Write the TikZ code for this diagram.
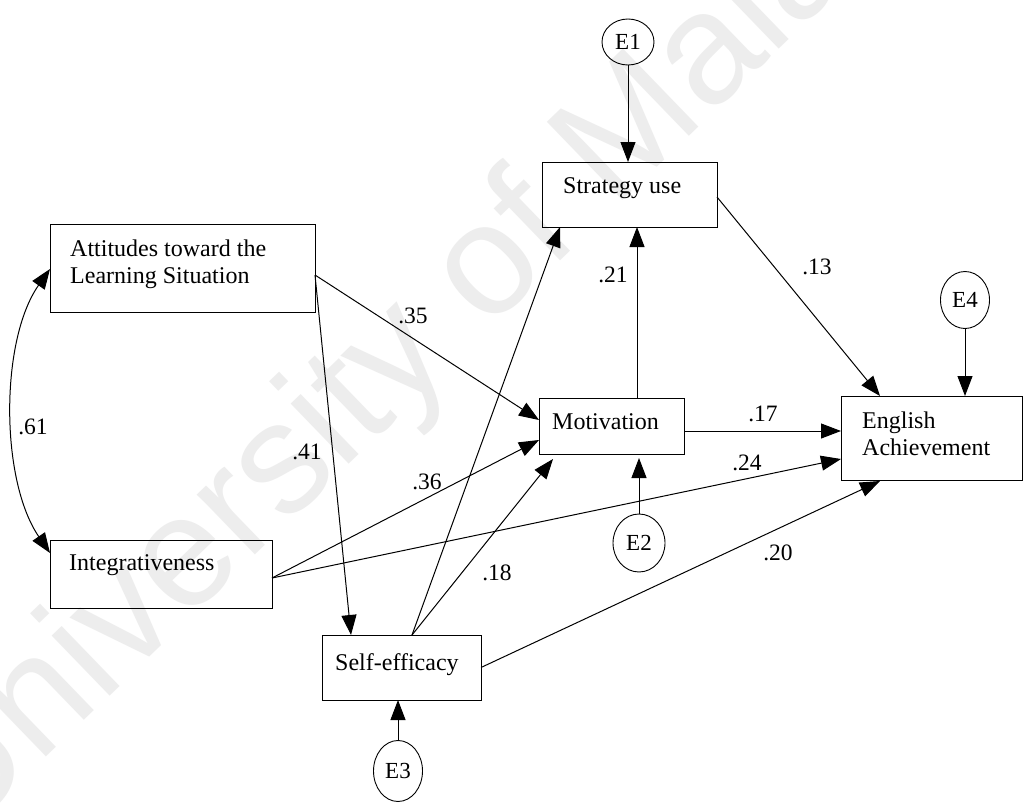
\documentclass[tikz,border=0pt]{standalone}
\usepackage{fontspec}
\setmainfont{Liberation Serif}
\newfontfamily\wmfont{Liberation Sans}
\usetikzlibrary{arrows.meta,shapes.geometric}
\begin{document}
\begin{tikzpicture}[x=1pt,y=-1pt,
  box/.style={draw, line width=1pt, rectangle, inner sep=0pt, outer sep=0pt},
  err/.style={draw, line width=0.9pt, ellipse, inner sep=0pt, outer sep=0pt,
              font=\fontsize{23}{26}\selectfont},
  txt/.style={anchor=base west, inner sep=0pt, font=\fontsize{24}{27.5}\selectfont},
  coef/.style={inner sep=0pt, font=\fontsize{23.5}{26}\selectfont},
  arr/.style={line width=1pt, -{Triangle[length=20pt,width=15pt]}},
  corr/.style={line width=1pt, {Triangle[length=20pt,width=15pt]}-{Triangle[length=20pt,width=15pt]}},
  wmark/.style={inner sep=0pt, text=black!7, font=\wmfont\fontsize{158}{160}\selectfont}
]
% page and background
\fill[white] (0,0) rectangle (1023,803);
\useasboundingbox (0,0) rectangle (1023,803);

% faint watermark
\node[wmark, rotate=44] (wm) at (440,320) {University of Malaya};

% observed variables
\node[box, minimum width=265pt, minimum height=88pt] (att) at (182.5,268) {};
\node[box, minimum width=222pt, minimum height=68pt] (int) at (161,574) {};
\node[box, minimum width=175pt, minimum height=65pt] (su)  at (629.5,194.5) {};
\node[box, minimum width=145pt, minimum height=56pt] (mot) at (611.5,426) {};
\node[box, minimum width=181pt, minimum height=84pt] (eng) at (931.5,438) {};
\node[box, minimum width=159pt, minimum height=65pt] (se)  at (401.5,667.5) {};

% box captions
\node[txt] (attA) at (70,256) {Attitudes toward the};
\node[txt] (attB) at (70,283.5) {Learning Situation};
\node[txt] (intA) at (69,570) {Integrativeness};
\node[txt] (suA)  at (563,193) {Strategy use};
\node[txt] (motA) at (552,429) {Motivation};
\node[txt] (engA) at (862,428) {English};
\node[txt] (engB) at (862,455) {Achievement};
\node[txt] (seA)  at (335,670) {Self-efficacy};

% error terms
\node[err, minimum width=52pt, minimum height=46pt] (E1) at (628,42) {E1};
\node[err, minimum width=52pt, minimum height=58pt] (E2) at (639,543) {E2};
\node[err, minimum width=49pt, minimum height=61pt] (E3) at (398,771) {E3};
\node[err, minimum width=49pt, minimum height=57pt] (E4) at (965,300) {E4};

% connector ports
\coordinate (attR)   at ([yshift=-7pt]att.east);
\coordinate (intR)   at ([yshift=-4pt]int.east);
\coordinate (seT)    at ([xshift=10.5pt]se.north);
\coordinate (seTL)   at ([xshift=-50.5pt]se.north);
\coordinate (motT)   at ([xshift=25.5pt]mot.north);
\coordinate (motR)   at ([yshift=-5pt]mot.east);
\coordinate (motL1)  at ([yshift=6pt]mot.west);
\coordinate (motL2)  at ([yshift=-14pt]mot.west);
\coordinate (motB)   at ([xshift=-58.5pt,yshift=-5pt]mot.south);
\coordinate (suR)    at ([yshift=-2.5pt]su.east);
\coordinate (suB)    at ([xshift=-69.5pt]su.south);
\coordinate (engT)   at ([xshift=-51.5pt]eng.north);
\coordinate (engL)   at ([yshift=-21pt]eng.west);
\coordinate (engB)   at ([xshift=-51.5pt,yshift=-1pt]eng.south);
\coordinate (attL)   at ([yshift=-1pt]att.west);
\coordinate (intL)   at ([yshift=21pt]int.west);

% paths
\draw[arr] (E1) -- (E1 |- su.north);
\draw[arr] (E4) -- (E4 |- eng.north);
\draw[arr, shorten >=4pt] (E2) -- (E2 |- mot.south);
\draw[arr] (E3) -- (E3 |- se.south);
\draw[arr] (motT) -- (motT |- su.south);
\draw[arr] (suR) -- (engT);
\draw[arr] (motR) -- (eng.west |- motR);
\draw[arr] (attR) -- (motL1);
\draw[arr] (attR) -- (seTL);
\draw[arr] (intR) -- (motL2);
\draw[arr] (intR) -- (engL);
\draw[arr] (seT) -- (suB);
\draw[arr] (seT) -- (motB);
\draw[arr] (se.east) -- (engB);
\draw[corr] (attL) .. controls (0,340) and (0,480) .. (intL);

% path coefficients
\node[coef] (c61) at (33,427) {.61};
\node[coef] (c35) at (413,316) {.35};
\node[coef] (c41) at (307,452) {.41};
\node[coef] (c36) at (427,482) {.36};
\node[coef] (c18) at (497,573) {.18};
\node[coef] (c21) at (613,275) {.21};
\node[coef] (c13) at (817,267) {.13};
\node[coef] (c17) at (763,414) {.17};
\node[coef] (c24) at (747,463) {.24};
\node[coef] (c20) at (778,553) {.20};
\end{tikzpicture}
\end{document}
